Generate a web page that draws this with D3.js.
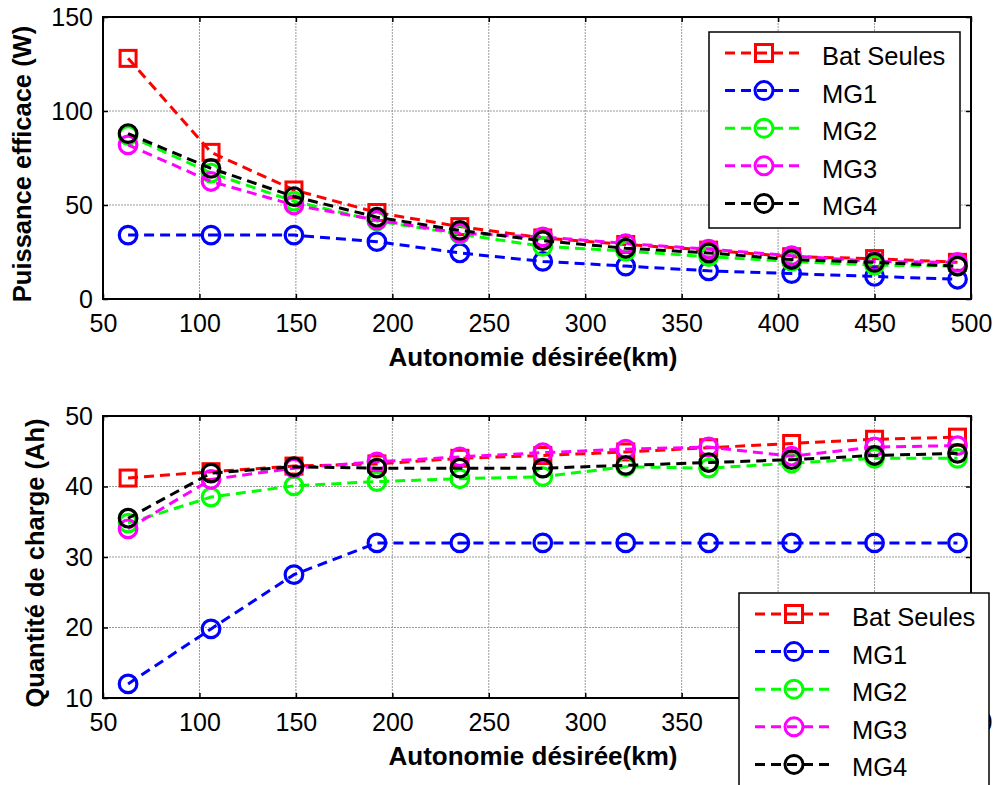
<!DOCTYPE html>
<html>
<head>
<meta charset="utf-8">
<script src="https://cdn.jsdelivr.net/npm/d3@7"></script>
<style>
  html, body { margin: 0; padding: 0; background: #fff; }
  svg { display: block; font-family: "Liberation Sans", Arial, sans-serif; }
</style>
</head>
<body>
<svg id="chart" width="995" height="785"></svg>
<script>
// ---- data ----
const autonomy = [63, 106, 149, 192, 235, 278, 321, 364, 407, 450, 493];
const seriesNames = ["Bat Seules", "MG1", "MG2", "MG3", "MG4"];
const seriesColors = ["#ff0000", "#0000ff", "#00ff00", "#ff00ff", "#000000"];
const seriesMarkers = ["square", "circle", "circle", "circle", "circle"];

// Puissance efficace (W)
const batP = [128, 78, 58, 46, 38.5, 32.5, 29, 26, 22.5, 21.5, 19.5];
const mg1P = [34, 34, 34, 30.5, 24.5, 20, 17.5, 15, 13.5, 12, 10.5];
const mg2P = [87, 67, 52, 41.5, 34.5, 28, 25.5, 22.5, 20, 18, 17.5];
const mg3P = [82, 62.5, 50, 42, 35, 33, 29.5, 26.5, 23, 20, 19.5];
const mg4P = [88, 69.5, 54.5, 43.5, 36.5, 31, 27, 24.5, 21, 19.5, 17.5];

// Quantité de charge (Ah)
const batQ = [41.2, 42.1, 42.9, 43.2, 44.0, 44.4, 44.9, 45.5, 46.1, 46.7, 47.0];
const mg1Q = [12, 19.8, 27.5, 32, 32, 32, 32, 32, 32, 32, 32];
const mg2Q = [34.8, 38.5, 40.1, 40.7, 41.1, 41.4, 42.8, 42.6, 43.3, 44.0, 44.0];
const mg3Q = [34.0, 41.0, 42.6, 43.5, 44.2, 44.8, 45.3, 45.6, 44.3, 45.6, 45.8];
const mg4Q = [35.5, 41.9, 42.8, 42.6, 42.6, 42.6, 43.0, 43.4, 43.8, 44.4, 44.7];

const xTicks = [50, 100, 150, 200, 250, 300, 350, 400, 450, 500];
const yTicksTop = [0, 50, 100, 150];
const yTicksBottom = [10, 20, 30, 40, 50];
// tick labels hidden behind the lower legend in the original
const hiddenBottomXLabels = [400, 450];

const xLabel = "Autonomie désirée(km)";
const yLabelTop = "Puissance efficace (W)";
const yLabelBottom = "Quantité de charge (Ah)";

// ---- drawing ----
const svg = d3.select("#chart");

function drawPanel(cfg) {
  const { left, right, top, bottom, yDomain, yTicks, series, yLabel, yLabelX, legend, hideX } = cfg;
  const x = d3.scaleLinear().domain([50, 500]).range([left, right]);
  const y = d3.scaleLinear().domain(yDomain).range([bottom, top]);
  const g = svg.append("g");

  // grid
  const grid = g.append("g").attr("stroke", "#9a9a9a").attr("stroke-width", 1).attr("stroke-dasharray", "2,1");
  grid.selectAll(".gx").data(xTicks.slice(1, -1)).join("line")
    .attr("x1", d => x(d)).attr("x2", d => x(d)).attr("y1", top).attr("y2", bottom);
  grid.selectAll(".gy").data(yTicks.slice(1, -1)).join("line")
    .attr("y1", d => y(d)).attr("y2", d => y(d)).attr("x1", left).attr("x2", right);

  // axes with inward ticks
  const fs = "25px";
  const ax = g.append("g").attr("transform", `translate(0,${bottom})`)
    .call(d3.axisBottom(x).tickValues(xTicks).tickSize(-5).tickPadding(15)
      .tickFormat(d => (hideX || []).includes(d) ? "" : d3.format("d")(d)));
  const ay = g.append("g").attr("transform", `translate(${left},0)`)
    .call(d3.axisLeft(y).tickValues(yTicks).tickSize(-5).tickPadding(10).tickFormat(d3.format("d")));
  const at = g.append("g").attr("transform", `translate(0,${top})`)
    .call(d3.axisTop(x).tickValues(xTicks).tickSize(-5).tickFormat(""));
  const ar = g.append("g").attr("transform", `translate(${right},0)`)
    .call(d3.axisRight(y).tickValues(yTicks).tickSize(-5).tickFormat(""));
  [ax, ay, at, ar].forEach(a => {
    a.select(".domain").remove();
    a.selectAll(".tick line").attr("stroke", "#000").attr("stroke-width", 1.5);
    a.selectAll("text").attr("font-size", fs).attr("fill", "#000")
      .attr("font-family", "'Liberation Sans', Arial, sans-serif");
    a.selectAll("text").filter(function () { return this.textContent === ""; }).remove();
  });

  // box
  g.append("rect").attr("x", left).attr("y", top).attr("width", right - left).attr("height", bottom - top)
    .attr("fill", "none").attr("stroke", "#000").attr("stroke-width", 2);

  // series
  const line = d3.line().x((d, i) => x(autonomy[i])).y(d => y(d));
  series.forEach((vals, si) => {
    const col = seriesColors[si];
    g.append("path").datum(vals).attr("d", line).attr("fill", "none")
      .attr("stroke", col).attr("stroke-width", 3).attr("stroke-dasharray", "10,6");
    const mg = g.append("g");
    if (seriesMarkers[si] === "square") {
      mg.selectAll("rect").data(vals).join("rect")
        .attr("x", (d, i) => x(autonomy[i]) - 8).attr("y", d => y(d) - 8)
        .attr("width", 16).attr("height", 16)
        .attr("fill", "none").attr("stroke", col).attr("stroke-width", 3);
    } else {
      mg.selectAll("circle").data(vals).join("circle")
        .attr("cx", (d, i) => x(autonomy[i])).attr("cy", d => y(d)).attr("r", 8.8)
        .attr("fill", "none").attr("stroke", col).attr("stroke-width", 3.2);
    }
  });

  // axis labels
  g.append("text").attr("x", (left + right) / 2 - 4).attr("y", cfg.xLabelY)
    .attr("text-anchor", "middle").attr("font-size", "26px").attr("font-weight", "bold").text(xLabel);
  g.append("text").attr("transform", `translate(${yLabelX},${(top + bottom) / 2 + 6}) rotate(-90)`)
    .attr("text-anchor", "middle").attr("font-size", "25.5px").attr("font-weight", "bold").text(yLabel);

  // legend
  const L = legend;
  const lg = g.append("g");
  lg.append("rect").attr("x", L.x).attr("y", L.y).attr("width", L.w).attr("height", L.h)
    .attr("fill", "#fff").attr("stroke", "#000").attr("stroke-width", 1.5);
  seriesNames.forEach((name, si) => {
    const ry = L.y + 21 + si * 37.6;
    const col = seriesColors[si];
    lg.append("line").attr("x1", L.x + 16).attr("x2", L.x + 94).attr("y1", ry).attr("y2", ry)
      .attr("stroke", col).attr("stroke-width", 3).attr("stroke-dasharray", "10,6");
    const mx = L.x + 55;
    if (seriesMarkers[si] === "square") {
      lg.append("rect").attr("x", mx - 8.5).attr("y", ry - 8.5).attr("width", 17).attr("height", 17)
        .attr("fill", "none").attr("stroke", col).attr("stroke-width", 3);
    } else {
      lg.append("circle").attr("cx", mx).attr("cy", ry).attr("r", 9)
        .attr("fill", "none").attr("stroke", col).attr("stroke-width", 3);
    }
    lg.append("text").attr("x", L.x + 113).attr("y", ry + 12).attr("font-size", "25.5px").text(name);
  });
}

drawPanel({
  left: 103, right: 971, top: 17, bottom: 299,
  yDomain: [0, 150], yTicks: yTicksTop,
  series: [batP, mg1P, mg2P, mg3P, mg4P],
  yLabel: yLabelTop, yLabelX: 31, xLabelY: 366,
  legend: { x: 709, y: 32, w: 251, h: 196 }
});

drawPanel({
  left: 103, right: 971, top: 416, bottom: 698,
  yDomain: [10, 50], yTicks: yTicksBottom,
  series: [batQ, mg1Q, mg2Q, mg3Q, mg4Q],
  yLabel: yLabelBottom, yLabelX: 44, xLabelY: 765,
  legend: { x: 739, y: 593, w: 250, h: 220 },
  hideX: hiddenBottomXLabels
});
</script>
</body>
</html>
